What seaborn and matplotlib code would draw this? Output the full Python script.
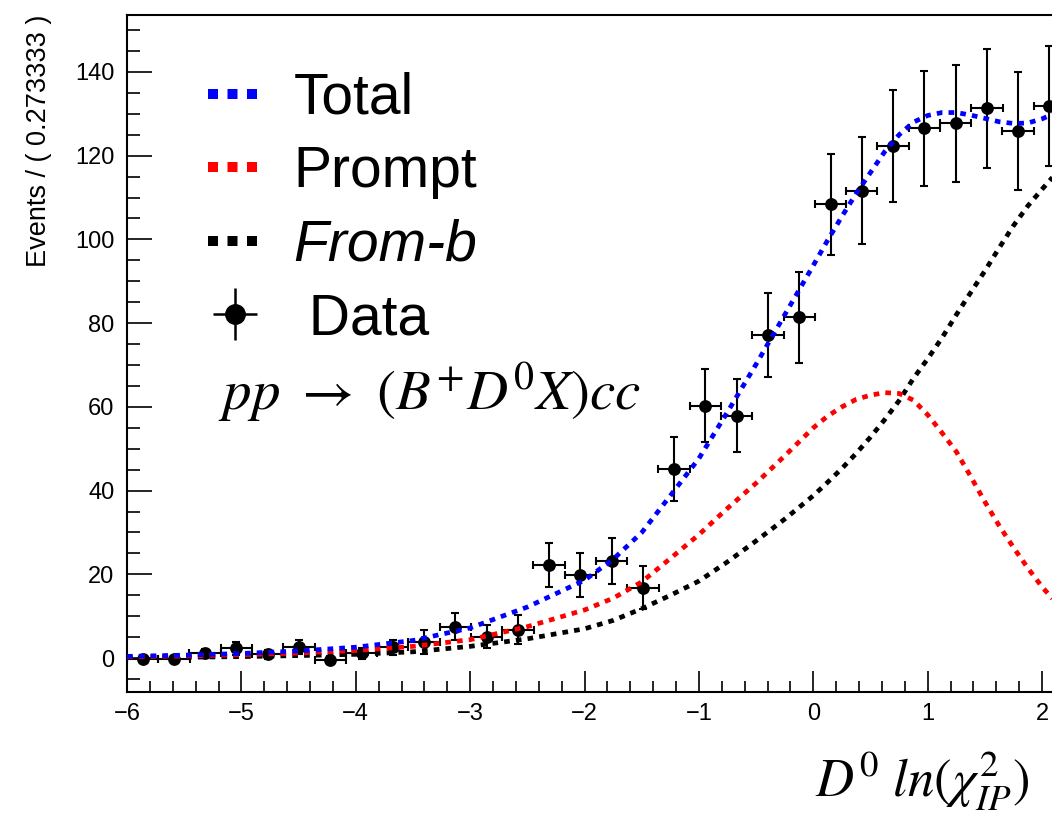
import numpy as np
import pandas as pd
import matplotlib
matplotlib.use("Agg")
import matplotlib.pyplot as plt
import seaborn as sns
from matplotlib.lines import Line2D
from matplotlib.legend_handler import HandlerTuple
from matplotlib.ticker import MultipleLocator

# Binned data: 30 bins of width 0.273333 from -6 to 2.2
bin_centers = [-5.863, -5.590, -5.317, -5.043, -4.770, -4.497, -4.223, -3.950,
               -3.677, -3.403, -3.130, -2.857, -2.583, -2.310, -2.037, -1.763,
               -1.490, -1.217, -0.943, -0.670, -0.397, -0.123, 0.150, 0.423,
               0.697, 0.970, 1.243, 1.517, 1.790, 2.063]
counts = [-0.2, -0.2, 1.1, 2.3, 0.9, 2.7, -0.4, 1.1, 2.6, 3.8,
          7.5, 5.1, 6.8, 22.2, 19.8, 23.2, 16.8, 45.2, 60.3, 57.9,
          77.2, 81.4, 108.4, 111.6, 122.3, 126.5, 127.7, 131.3, 125.9, 131.9]
count_errors = [0.6, 0.6, 1.0, 1.6, 1.1, 1.7, 0.9, 1.3, 1.8, 2.8,
                3.2, 2.8, 3.5, 5.2, 5.2, 5.6, 5.1, 7.7, 8.7, 8.7,
                10.1, 10.8, 12.1, 12.8, 13.3, 13.7, 13.9, 14.2, 14.1, 14.4]
bin_half_width = 0.136667

# Fitted model components
model_x = [-6.0, -5.5, -5.0, -4.5, -4.0, -3.5, -3.0, -2.5, -2.0, -1.75,
           -1.5, -1.25, -1.0, -0.75, -0.5, -0.25, 0.0, 0.125, 0.25, 0.375,
           0.5, 0.625, 0.75, 0.875, 1.0, 1.125, 1.25, 1.375, 1.5, 1.625,
           1.75, 1.875, 2.0, 2.09]
total_fit = [0.4, 0.7, 1.1, 1.7, 2.6, 4.2, 7.2, 12.2, 18.6, 23.6,
             30.0, 38.8, 47.7, 58.8, 70.2, 82.0, 93.8, 99.8, 105.5, 111.0,
             116.0, 121.0, 125.0, 128.0, 129.6, 130.3, 130.3, 129.7, 128.9, 128.1,
             127.7, 127.8, 128.8, 129.9]
prompt_fit = [0.3, 0.5, 0.8, 1.2, 1.8, 2.8, 4.4, 7.5, 11.5, 14.3,
              18.2, 23.8, 29.5, 35.8, 41.8, 48.3, 55.0, 57.8, 60.0, 61.8,
              62.8, 63.4, 63.2, 61.6, 58.1, 53.8, 49.3, 43.4, 37.3, 31.6,
              26.4, 21.5, 17.0, 14.2]
fromb_fit = [0.1, 0.2, 0.35, 0.6, 0.9, 1.5, 2.8, 4.6, 7.0, 9.0,
             11.8, 15.0, 18.4, 23.0, 28.0, 33.2, 38.8, 42.0, 45.3, 48.9,
             52.8, 57.0, 61.5, 66.8, 71.5, 76.5, 82.0, 87.3, 92.5, 98.0,
             103.3, 108.0, 112.0, 114.8]

sns.set_theme(style="ticks")
plt.rcParams["font.family"] = ["Liberation Sans", "DejaVu Sans"]
plt.rcParams["mathtext.fontset"] = "stix"
plt.rcParams["text.color"] = "black"
plt.rcParams["axes.labelcolor"] = "black"
plt.rcParams["xtick.color"] = "black"
plt.rcParams["ytick.color"] = "black"

fig = plt.figure(figsize=(10.52, 8.15), dpi=100)
W, H = 1052, 815
ax = fig.add_axes([127 / W, 1 - 692 / H, 938 / W, 677 / H])

data = pd.DataFrame({"x": bin_centers, "y": counts, "err": count_errors})
models = pd.DataFrame({"x": model_x, "Total": total_fit,
                       "Prompt": prompt_fit, "From-b": fromb_fit})

# Data points with error bars
ax.errorbar(data["x"], data["y"], yerr=data["err"], xerr=bin_half_width,
            fmt="none", ecolor="black", elinewidth=1.5, capsize=2.6,
            capthick=1.5, zorder=2)
sns.scatterplot(data=data, x="x", y="y", color="black", s=85,
                edgecolor="black", linewidth=0, ax=ax, zorder=3)

# Fit components as dotted curves
dot_style = (0, (1.2, 1.3))
for col, colour in [("From-b", "black"), ("Prompt", "red"), ("Total", "blue")]:
    sns.lineplot(data=models, x="x", y=col, color=colour, lw=3.4,
                 linestyle=dot_style, ax=ax, zorder=4)
for ln in ax.get_lines():
    ln.set_dash_capstyle("butt")

ax.set_xlim(-6.0, 2.2)
ax.set_ylim(-8.1, 153.6)

ax.xaxis.set_major_locator(MultipleLocator(1))
ax.xaxis.set_minor_locator(MultipleLocator(0.2))
ax.yaxis.set_major_locator(MultipleLocator(20))
ax.yaxis.set_minor_locator(MultipleLocator(5))
ax.tick_params(axis="both", which="both", direction="in", width=1.2,
               colors="black", labelsize=17)
ax.tick_params(axis="x", which="major", length=15, pad=8)
ax.tick_params(axis="x", which="minor", length=8)
ax.tick_params(axis="y", which="major", length=18, pad=9)
ax.tick_params(axis="y", which="minor", length=9.5)
for side in ["left", "bottom", "top", "right"]:
    ax.spines[side].set_visible(True)
    ax.spines[side].set_linewidth(1.5)
    ax.spines[side].set_color("black")

ax.set_ylabel("Events / ( 0.273333 )", fontsize=19.5, loc="top")
ax.yaxis.set_label_coords(-0.08, 1.0)
ax.set_xlabel(r"$D^0\ ln(\chi^2_{IP})$", fontsize=38, loc="right")
ax.xaxis.set_label_coords(0.963, -0.085)

ax.text(0.097, 0.4165, r"$pp\ \rightarrow\ (B^{+}D^{0}X)cc$",
        transform=ax.transAxes, fontsize=41, va="baseline", ha="left")

# Legend
h_total = Line2D([], [], color="blue", lw=7.2, linestyle=(0, (1, 0.95)),
                 dash_capstyle="butt")
h_prompt = Line2D([], [], color="red", lw=7.2, linestyle=(0, (1, 0.95)),
                  dash_capstyle="butt")
h_fromb = Line2D([], [], color="black", lw=7.2, linestyle=(0, (1, 0.95)),
                 dash_capstyle="butt")
h_vbar = Line2D([], [], color="black", marker="|", markersize=37, mew=1.8,
                linestyle="none")
h_hbar = Line2D([], [], color="black", marker="_", markersize=31, mew=1.8,
                linestyle="none")
h_dot = Line2D([], [], color="black", marker="o", markersize=14,
               linestyle="none")
leg = ax.legend([h_total, h_prompt, h_fromb, (h_vbar, h_hbar, h_dot)],
                ["Total", "Prompt", "From-b", " Data"],
                handler_map={tuple: HandlerTuple(ndivide=1)},
                loc="upper left", bbox_to_anchor=(208 / W, 1 - 72 / H),
                bbox_transform=fig.transFigure, frameon=False,
                fontsize=41, handlelength=0.95, handletextpad=0.55,
                labelspacing=0.34, borderpad=0, borderaxespad=0,
                numpoints=1)
leg.get_texts()[2].set_style("italic")
for t in leg.get_texts():
    t.set_color("black")

fig.savefig("out.png", dpi=100)
